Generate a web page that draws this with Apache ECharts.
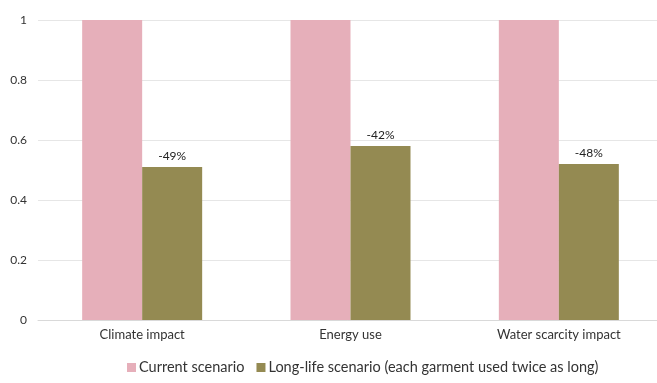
<!DOCTYPE html>
<html>
<head>
<meta charset="utf-8">
<style>
  html, body { margin: 0; padding: 0; background: #ffffff; }
  #chart { width: 657px; height: 383px; }
</style>
<script src="https://cdn.jsdelivr.net/npm/echarts@6/dist/echarts.min.js"></script>
</head>
<body>
<div id="chart"></div>
<script>
// Impact categories on the x axis
const categories = ['Climate impact', 'Energy use', 'Water scarcity impact'];
// Current scenario is the baseline (normalised to 1)
const currentValues = [1, 1, 1];
// Change of the long-life scenario relative to current, in percent
const longLifeChange = [-49, -42, -48];
const longLifeValues = longLifeChange.map(p => 1 + p / 100);
const seriesNames = ['Current scenario', 'Long-life scenario (each garment used twice as long)'];

const font = 'Lato, "Noto Sans", sans-serif';
const chart = echarts.init(document.getElementById('chart'), null, { renderer: 'canvas' });

chart.setOption({
  animation: false,
  textStyle: { fontFamily: font },
  // the plot area runs slightly past the right edge of the canvas
  grid: { left: 38, width: 625, top: 20, bottom: 63, containLabel: false, outerBoundsMode: 'none' },
  legend: {
    bottom: 3,
    left: 122,
    itemWidth: 9,
    itemHeight: 9,
    itemGap: 12,
    icon: 'rect',
    textStyle: { fontFamily: font, fontSize: 14.5, color: '#333333', padding: [0, 0, 0, -2] },
    data: seriesNames
  },
  xAxis: {
    type: 'category',
    data: categories,
    axisLine: { lineStyle: { color: '#d9d9d9' } },
    axisTick: { show: false },
    axisLabel: { color: '#333333', fontSize: 13, margin: 8, fontFamily: font }
  },
  yAxis: {
    type: 'value',
    min: 0,
    max: 1,
    interval: 0.2,
    axisLine: { show: false },
    axisTick: { show: false },
    splitLine: { lineStyle: { color: '#e6e6e6' } },
    axisLabel: {
      color: '#333333', fontSize: 12, margin: 11, fontFamily: font,
      formatter: v => String(Math.round(v * 10) / 10)
    }
  },
  series: [
    {
      name: seriesNames[0],
      type: 'bar',
      data: currentValues,
      barWidth: 60,
      barGap: '0%',
      itemStyle: { color: '#e6afba' }
    },
    {
      name: seriesNames[1],
      type: 'bar',
      data: longLifeValues,
      barWidth: 60,
      itemStyle: { color: '#948a52' },
      label: {
        show: true,
        position: 'top',
        distance: 5,
        color: '#222222',
        fontSize: 12,
        fontFamily: font,
        formatter: p => longLifeChange[p.dataIndex] + '%'
      }
    }
  ]
});
</script>
</body>
</html>
